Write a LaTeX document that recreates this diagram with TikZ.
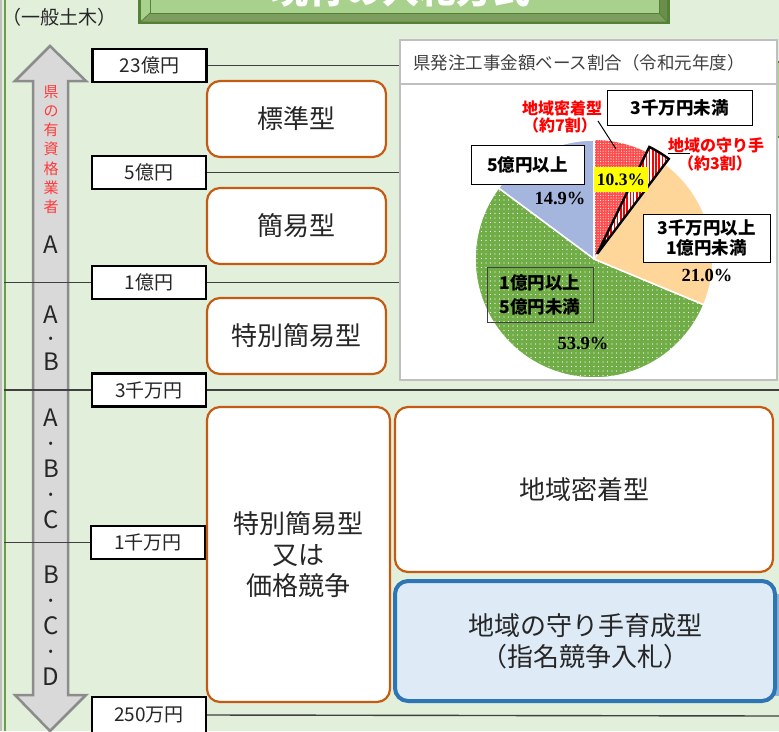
\documentclass[tikz,border=0pt]{standalone}
\usepackage{fontspec}
\setmainfont{Noto Sans CJK JP}
\newfontfamily\pctfont{Liberation Serif}
\usetikzlibrary{patterns.meta}
\definecolor{bg}{HTML}{E2EFDA}
\definecolor{dgreen}{HTML}{548235}
\definecolor{lgreen}{HTML}{A9D18E}
\definecolor{bevelB}{HTML}{7D9E5E}
\definecolor{bevelR}{HTML}{6A8F4C}
\definecolor{edgegreen}{HTML}{6A9E48}
\definecolor{orng}{HTML}{C55A11}
\definecolor{txt}{HTML}{262626}
\definecolor{arrowfill}{HTML}{D9D9D9}
\definecolor{arrowdraw}{HTML}{8C8C8C}
\definecolor{bluebd}{HTML}{2E75B6}
\definecolor{bluefill}{HTML}{DEEBF7}
\definecolor{bluepart}{HTML}{8FB4D6}
\definecolor{pgreen}{HTML}{70AD47}
\definecolor{porange}{HTML}{FFD699}
\definecolor{pblue}{HTML}{A4B5DE}
\definecolor{pred}{HTML}{FF4B4B}
\definecolor{redtxt}{HTML}{FF0000}
\definecolor{gradered}{HTML}{FF3B3B}
\definecolor{linegray}{HTML}{404040}
\definecolor{boxgray}{HTML}{BFBFBF}
\definecolor{titlegray}{HTML}{404040}
\definecolor{hiyellow}{HTML}{FFFF00}
\tikzset{
  amt/.style={draw=black, line width=2.4, fill=white, minimum width=114, minimum height=33, inner sep=0, text=txt, font=\fontsize{19}{22}\selectfont},
  rbox/.style={draw=orng, line width=2.2, fill=white, rounded corners=13, inner sep=0, text=txt, align=center, font=\fontsize{26}{31}\selectfont},
  link/.style={draw=linegray, line width=1.4},
  grade/.style={text=txt, align=center, inner sep=0, font=\fontsize{24}{25}\selectfont},
  redlbl/.style={text=redtxt, inner sep=0, font=\bfseries\fontsize{16}{18}\selectfont},
  plbl/.style={draw=black, line width=0.9, fill=white, inner sep=0, align=center, text=black, font=\bfseries\fontsize{17.5}{21}\selectfont},
  pct/.style={inner sep=0, text=black, font=\pctfont\bfseries\fontsize{18.5}{20}\selectfont},
  leader/.style={draw=black, line width=1},
}
\begin{document}
\begin{tikzpicture}[x=1pt,y=-1pt]
\useasboundingbox (0,0) rectangle (779,731);
\begin{scope}
\clip (0,0) rectangle (779,731);
% background
\fill[bg] (0,0) rectangle (779,731);
\fill[boxgray] (0,0) rectangle (2,731);
\draw[edgegreen, line width=2] (5,0) -- (5,731);

% title box (cut at the top)
\fill[dgreen] (138,-10) rectangle (670,24);
\fill[bevelB] (141,21.5) -- (667,21.5) -- (659,13) -- (150,13) -- cycle;
\fill[bevelR] (659,-10) -- (667,-10) -- (667,21.5) -- (659,13) -- cycle;
\fill[lgreen] (141,-10) -- (150,-10) -- (150,13) -- (141,21.5) -- cycle;
\fill[lgreen] (150,-10) rectangle (659,13);
\draw[dgreen, line width=0.8] (150,-10) -- (150,13) -- (659,13) -- (659,-10);
\draw[dgreen, line width=0.8] (150,13) -- (141,21.5);
\draw[dgreen, line width=0.8] (659,13) -- (667,21.5);
\node[anchor=base, inner sep=0, text=white, font=\bfseries\fontsize{37}{40}\selectfont] (title) at (401,3.4) {現行の入札方式};

\node[inner sep=0, text=txt, font=\fontsize{19}{22}\selectfont] (kind) at (59,17) {（一般土木）};

% right-edge partial shapes
\filldraw[fill=lgreen, draw=dgreen, line width=1.5] (773,62) rectangle (790,137);
\fill[bluepart] (774,594) rectangle (790,696);

% double arrow
\filldraw[fill=arrowfill, draw=arrowdraw, line width=2.5, line join=miter]
  (50,46) -- (86,81) -- (68,81) -- (68,695) -- (86,695) -- (50,731) -- (15,695) -- (33,695) -- (33,81) -- (15,81) -- cycle;
\node[inner sep=0, text=gradered, align=center, font=\fontsize{15}{19.2}\selectfont] (qual) at (51,149.5) {県\\の\\有\\資\\格\\業\\者};
\node[grade] (gA) at (51,245) {A};
\node[grade, font=\fontsize{24}{23.5}\selectfont] (gAB) at (51,338.5) {A\\·\\B};
\node[grade, font=\fontsize{24}{25.5}\selectfont] (gABC) at (51,469) {A\\·\\B\\·\\C};
\node[grade, font=\fontsize{24}{25.5}\selectfont] (gBCD) at (51,626) {B\\·\\C\\·\\D};

% amount boxes
\node[amt] (a23) at (149.5,65.5) {23億円};
\node[amt] (a5) at (149,172.5) {5億円};
\node[amt] (a1) at (149,282.5) {1億円};
\node[amt] (a3k) at (149,390) {3千万円};
\node[amt] (a1k) at (148,542.5) {1千万円};
\node[amt, minimum height=36] (a250) at (149,715) {250万円};

% threshold lines
\coordinate (e23) at (400,65.5);
\coordinate (e5) at (400,172.5);
\coordinate (e1) at (400,282.5);
\coordinate (w1) at (4,282.5);
\coordinate (w3k) at (4,390);
\coordinate (e3k) at (779,390);
\coordinate (w1k) at (4,542.5);
\coordinate (e250) at (779,716);
\draw[link] (a23.east) -- (e23);
\draw[link] (a5.east) -- (e5);
\draw[link] (w1) -- (a1.west);
\draw[link] (a1.east) -- (e1);
\draw[link] (w3k) -- (a3k.west);
\draw[link] (a3k.east) -- (e3k);
\draw[link] (w1k) -- (a1k.west);
\draw[link] (a250.east) -- (e250);

% method boxes
\node[rbox, minimum width=179, minimum height=76] (std) at (296.5,119) {標準型};
\node[rbox, minimum width=179, minimum height=76] (simple) at (296.5,226) {簡易型};
\node[rbox, minimum width=179, minimum height=76] (special) at (296.5,336) {特別簡易型};
\node[rbox, minimum width=183, minimum height=295] (specialprice) at (298.5,554.5) {特別簡易型\\又は\\価格競争};
\node[rbox, minimum width=378, minimum height=165] (local) at (584,489.5) {地域密着型};
\node[rbox, draw=bluebd, fill=bluefill, line width=4, minimum width=380, minimum height=120] (keeper) at (585,641) {地域の守り手育成型\\（指名競争入札）};

% pie chart frame
\node[draw=boxgray, line width=1.2, fill=white, minimum width=377, minimum height=340, inner sep=0] (piebox) at (588.5,210) {};
\coordinate (sepL) at (400,84);
\coordinate (sepR) at (777,84);
\draw[boxgray, line width=1.2] (sepL) -- (sepR);
\node[anchor=west, inner sep=0, text=titlegray, font=\fontsize{17.5}{20}\selectfont] (pietitle) at (413,63) {県発注工事金額ベース割合（令和元年度）};

% pie
\begin{scope}[shift={(594,259)}, yscale=-1]
  \filldraw[fill=pblue, draw=white, line width=1.5] (0,0) -- (90:119) arc[start angle=90, end angle=143.4, radius=119] -- cycle;
  \filldraw[fill=pgreen, draw=white, line width=1.5] (0,0) -- (143.4:119) arc[start angle=143.4, end angle=337.4, radius=119] -- cycle;
  \path[pattern={Dots[distance=4.5pt, radius=0.6pt]}, pattern color=white] (0,0) -- (143.4:118) arc[start angle=143.4, end angle=337.4, radius=118] -- cycle;
  \filldraw[fill=porange, draw=white, line width=1.5] (0,0) -- (-22.6:119) arc[start angle=-22.6, end angle=53, radius=119] -- cycle;
  \fill[pred] (0,0) -- (64:119) arc[start angle=64, end angle=90, radius=119] -- cycle;
  \path[pattern={Dots[distance=2.6pt, radius=0.55pt]}, pattern color=white] (0,0) -- (64:119) arc[start angle=64, end angle=90, radius=119] -- cycle;
  \draw[white, line width=1.2] (0,0) -- (90:119);
  \begin{scope}[shift={(58.5:6)}]
    \fill[white] (0,0) -- (53:119) arc[start angle=53, end angle=64, radius=119] -- cycle;
    \path[pattern={Lines[angle=90, distance=3.2pt, line width=1.6pt]}, pattern color=red] (0,0) -- (53:119) arc[start angle=53, end angle=64, radius=119] -- cycle;
    \draw[black, line width=2.4, line join=miter] (0,0) -- (53:119) arc[start angle=53, end angle=64, radius=119] -- cycle;
  \end{scope}
\end{scope}

% pie labels
\node[redlbl] (lblLocal) at (562,108) {地域密着型};
\node[redlbl] (lblLocalPct) at (560,125) {（約7割）};
\coordinate (ldA) at (598,121);
\coordinate (ldB) at (616,149);
\draw[leader] (ldA) -- (ldB);
\node[plbl, minimum width=145, minimum height=35] (under3k) at (679.5,107.5) {3千万円未満};
\node[redlbl] (lblKeeper) at (716,145) {地域の守り手};
\node[redlbl] (lblKeeperPct) at (715,163) {（約3割）};
\coordinate (lkA) at (668,153);
\coordinate (lkB) at (690,153);
\draw[leader] (lkA) -- (lkB);
\node[fill=hiyellow, minimum width=54, minimum height=25, inner sep=0, font=\pctfont\bfseries\fontsize{17.5}{20}\selectfont] (p103) at (621,179.5) {10.3\%};
\node[plbl, minimum width=113, minimum height=39] (over5) at (527.5,164.5) {5億円以上};
\node[pct] (p149) at (560,198) {14.9\%};
\node[plbl, minimum width=127, minimum height=48, font=\bfseries\fontsize{17.5}{20.5}\selectfont] (mid) at (706.5,238) {3千万円以上\\1億円未満};
\node[pct] (p210) at (707,275) {21.0\%};
\node[plbl, fill=none, draw=linegray, minimum width=106, minimum height=55, font=\bfseries\fontsize{17.5}{24}\selectfont] (big) at (540,294.5) {1億円以上\\5億円未満};
\node[pct] (p539) at (583,343) {53.9\%};
\end{scope}
\end{tikzpicture}
\end{document}
